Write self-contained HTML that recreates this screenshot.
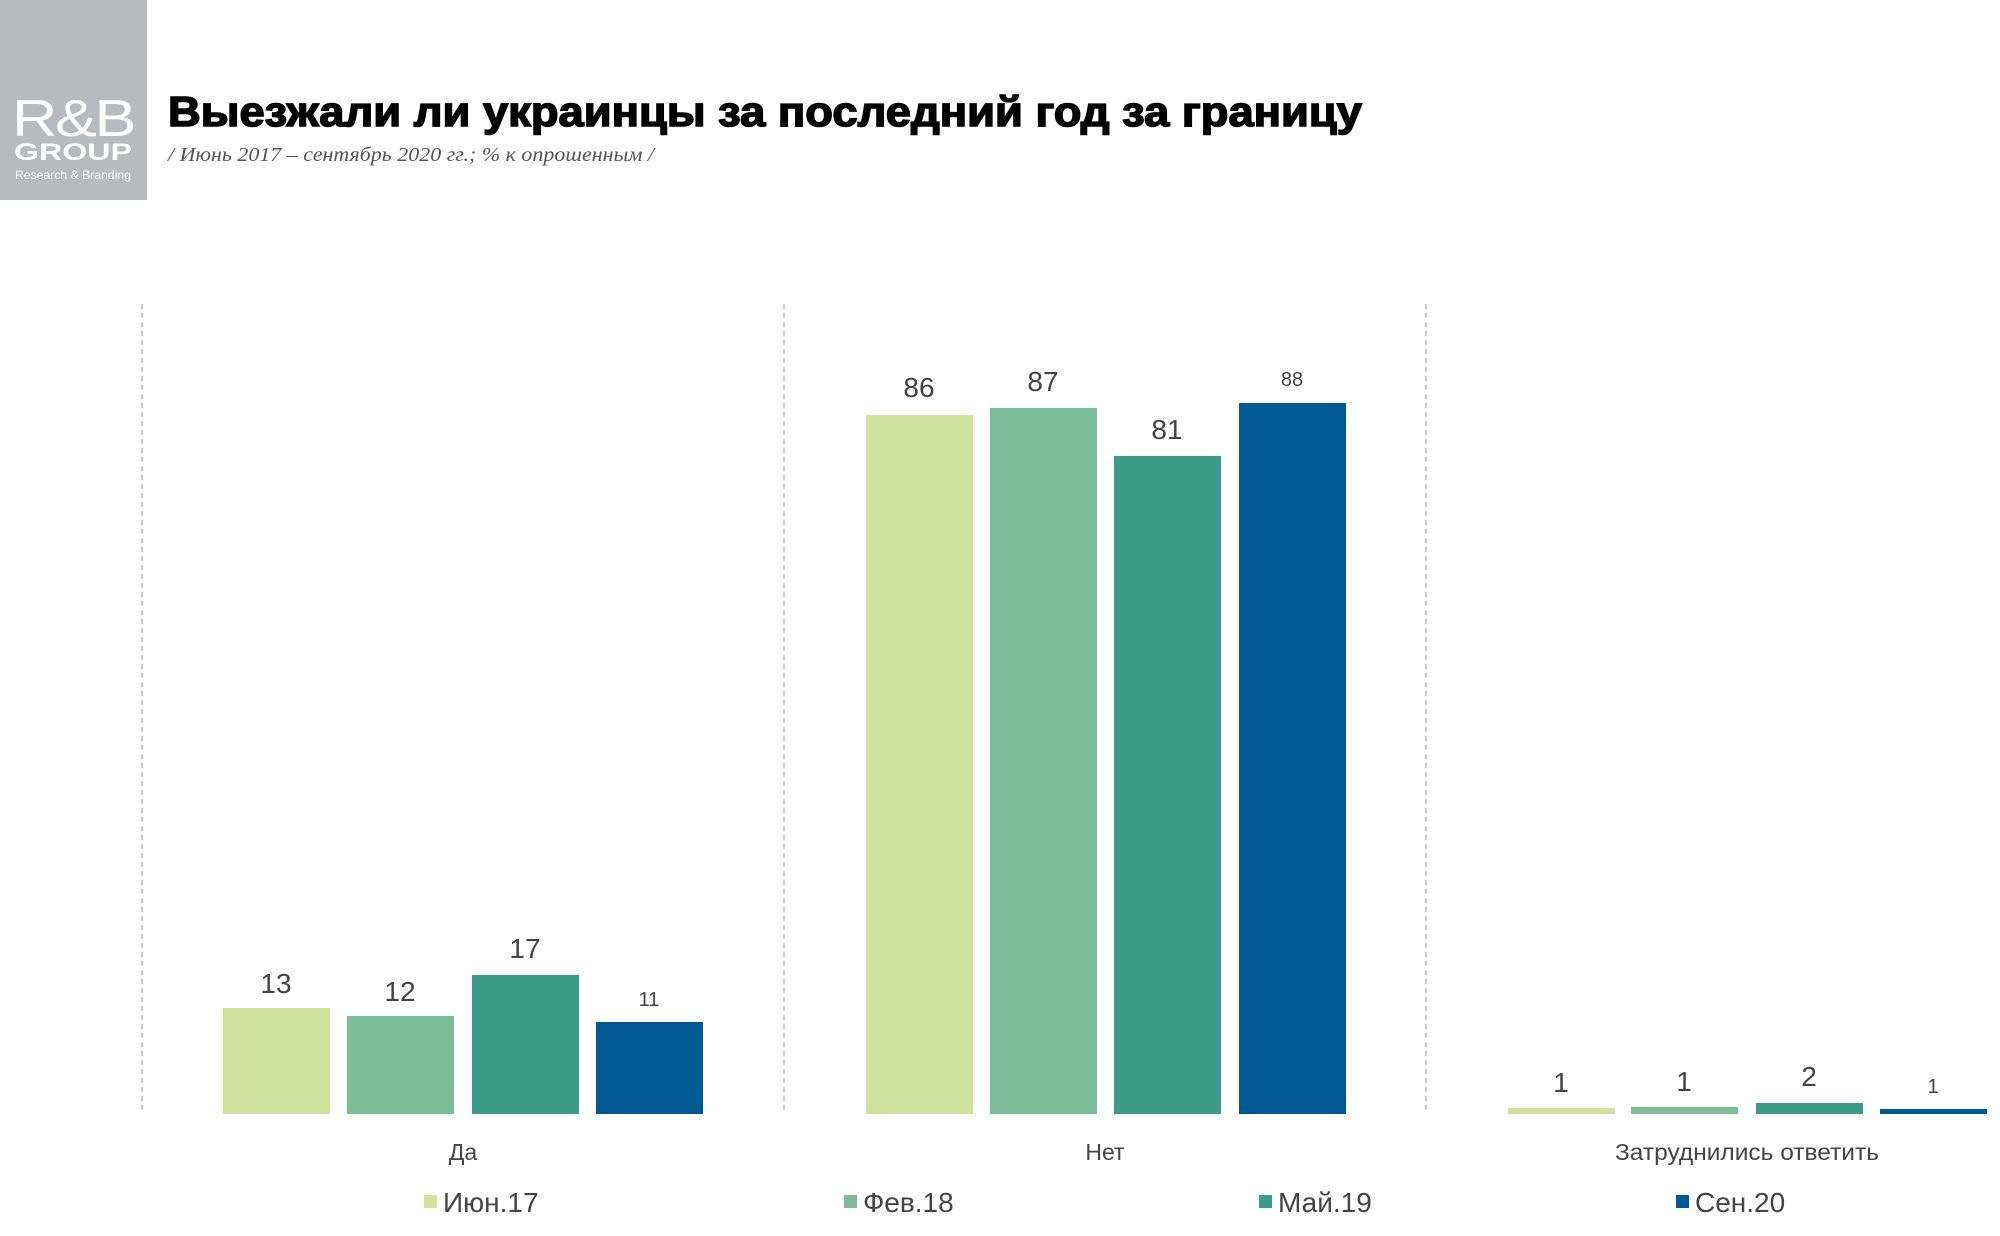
<!DOCTYPE html>
<html><head><meta charset="utf-8"><style>html,body{margin:0;padding:0;background:#fff}svg{display:block}</style></head>
<body>
<svg width="2000" height="1236" viewBox="0 0 2000 1236" xmlns="http://www.w3.org/2000/svg" style="font-family:'Liberation Sans',sans-serif">
<rect x="0" y="0" width="147" height="200" fill="#b9babd"/>
<text x="73" y="136" font-size="52" font-weight="300" fill="#fff" text-anchor="middle" textLength="122" lengthAdjust="spacingAndGlyphs" letter-spacing="-2">R&amp;B</text>
<text x="73" y="160" font-size="24" font-weight="bold" fill="#fff" text-anchor="middle" textLength="118" lengthAdjust="spacingAndGlyphs">GROUP</text>
<text x="73" y="179" font-size="12" fill="#fff" text-anchor="middle" textLength="116" lengthAdjust="spacingAndGlyphs">Research &amp; Branding</text>
<text x="168" y="126" font-size="42" font-weight="bold" fill="#000" stroke="#000" stroke-width="1.5" textLength="1194" lengthAdjust="spacingAndGlyphs">Выезжали ли украинцы за последний год за границу</text>
<text x="168" y="161" font-size="20" font-style="italic" fill="#555" style="font-family:'Liberation Serif',serif" textLength="486" lengthAdjust="spacingAndGlyphs">/ Июнь 2017 – сентябрь 2020 гг.; % к опрошенным /</text>
<g stroke="#bbb" stroke-width="1.5" stroke-dasharray="5,4">
<line x1="142" y1="304" x2="142" y2="1114"/><line x1="784" y1="304" x2="784" y2="1114"/><line x1="1426" y1="304" x2="1426" y2="1114"/>
</g>
<g>
<rect x="223" y="1008" width="107" height="106" fill="#d0e29c"/>
<rect x="347" y="1016" width="107" height="98" fill="#7dbc98"/>
<rect x="472" y="975" width="107" height="139" fill="#3b9c87"/>
<rect x="596" y="1022" width="107" height="92" fill="#005a92"/>
<rect x="866" y="415" width="107" height="699" fill="#d0e29c"/>
<rect x="990" y="408" width="107" height="706" fill="#7dbc98"/>
<rect x="1114" y="456" width="107" height="658" fill="#3b9c87"/>
<rect x="1239" y="403" width="107" height="711" fill="#005a92"/>
<rect x="1508" y="1108" width="107" height="6" fill="#d0e29c"/>
<rect x="1631" y="1107" width="107" height="7" fill="#7dbc98"/>
<rect x="1756" y="1103" width="107" height="11" fill="#3b9c87"/>
<rect x="1880" y="1109" width="107" height="5" fill="#005a92"/>
</g>
<g fill="#444" font-size="28" text-anchor="middle">
<text x="276" y="993">13</text><text x="400" y="1001">12</text><text x="525" y="958">17</text><text x="649" y="1006" font-size="20">11</text>
<text x="919" y="397">86</text><text x="1043" y="391">87</text><text x="1167" y="439">81</text><text x="1292" y="386" font-size="20">88</text>
<text x="1561" y="1092">1</text><text x="1684" y="1091">1</text><text x="1809" y="1086">2</text><text x="1933" y="1093" font-size="20">1</text>
</g>
<g fill="#444" font-size="23" text-anchor="middle">
<text x="463" y="1160">Да</text><text x="1105" y="1160">Нет</text><text x="1747" y="1160" textLength="264" lengthAdjust="spacingAndGlyphs">Затруднились ответить</text>
</g>
<g font-size="28" fill="#444">
<rect x="424" y="1195" width="13" height="13" fill="#d0e29c"/><text x="443" y="1212">Июн.17</text>
<rect x="844" y="1195" width="13" height="13" fill="#7dbc98"/><text x="863" y="1212">Фев.18</text>
<rect x="1259" y="1195" width="13" height="13" fill="#3b9c87"/><text x="1278" y="1212">Май.19</text>
<rect x="1676" y="1195" width="13" height="13" fill="#005a92"/><text x="1695" y="1212">Сен.20</text>
</g>
</svg>
</body></html>
